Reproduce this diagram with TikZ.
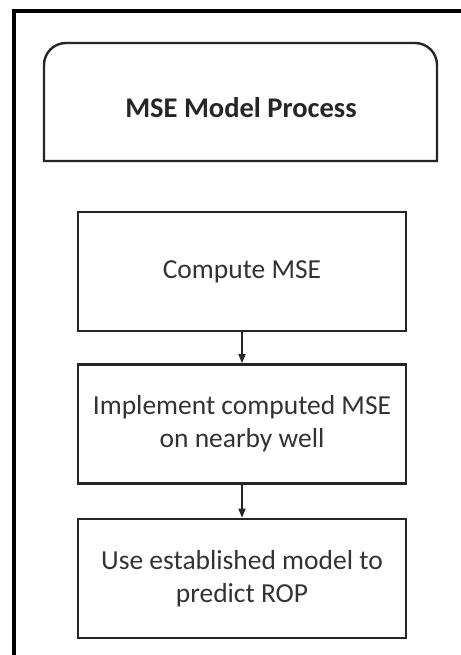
\documentclass[tikz,border=0pt]{standalone}
\usepackage{fontspec}
\setmainfont{Carlito}
\usetikzlibrary{arrows.meta}
\begin{document}
\begin{tikzpicture}[x=1pt,y=-1pt,
  stepbox/.style={draw=black!85, line width=2.6pt, minimum width=328pt, minimum height=119pt, align=center, inner sep=0pt, font=\fontsize{27.5}{33}\selectfont, text=black!80},
  link/.style={draw=black!85, line width=1.6pt, -{Triangle[length=9pt,width=7pt]}}]
\useasboundingbox (0,0) rectangle (460,655);
\fill[white] (0,0) rectangle (460,655);
% outer frame (cut at right and bottom)
\draw[line width=3.5pt] (14,660) -- (14,11) -- (465,11);
% header with rounded top corners
\draw[line width=2.4pt, draw=black!85] (44,161) -- (44,65) to[out=90,in=180] (66,43) -- (415,43) to[out=0,in=90] (437,65) -- (437,161) -- cycle;
\node[font=\bfseries\fontsize{28.5}{33}\selectfont, text=black!85] (title) at (241,108) {MSE Model Process};
\node[stepbox] (s1) at (242,271.5) {Compute MSE};
\node[stepbox] (s2) at (242,424) {Implement computed MSE\\on nearby well};
\node[stepbox] (s3) at (242,578.5) {Use established model to\\predict ROP};
\draw[link] (s1) -- (s2);
\draw[link] (s2) -- (s3);
\end{tikzpicture}
\end{document}
